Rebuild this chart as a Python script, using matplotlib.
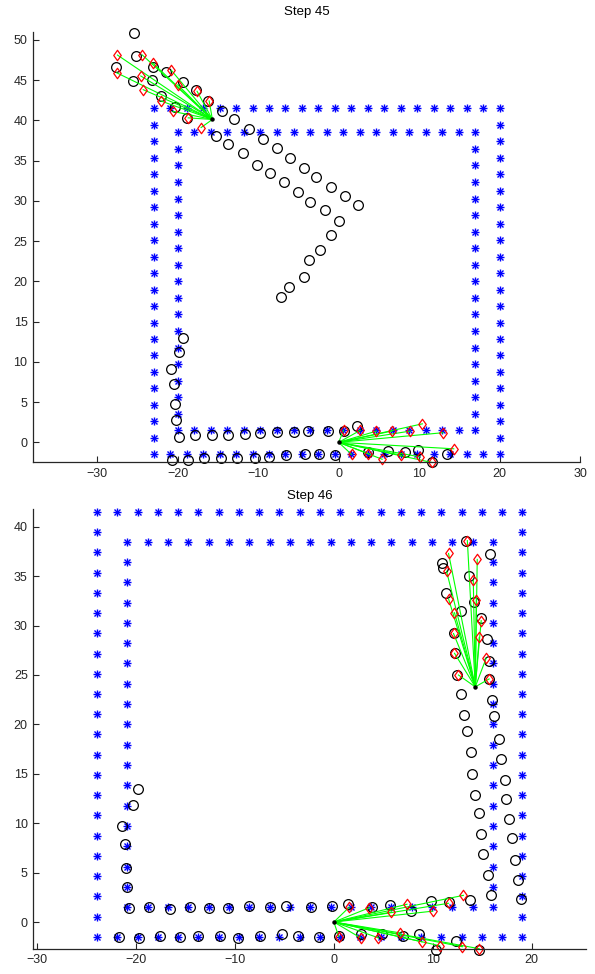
import matplotlib
matplotlib.use("Agg")
import matplotlib.pyplot as plt
from matplotlib.path import Path

plt.rcParams['font.family'] = ['Liberation Sans', 'DejaVu Sans']

# ---------------- data: Step 45 ----------------
top_outer_x = [-23.0, -20.95, -18.9, -16.86, -14.81, -12.76, -10.71, -8.67, -6.62, -4.57, -2.52,
               -0.48, 1.57, 3.62, 5.67, 7.71, 9.76, 11.81, 13.86, 15.9, 17.95, 20.0]
top_outer_y = [-1.5, 0.55, 2.6, 4.64, 6.69, 8.74, 10.79, 12.83, 14.88, 16.93, 18.98, 21.02,
               23.07, 25.12, 27.17, 29.21, 31.26, 33.31, 35.36, 37.4, 39.45, 41.5]
top_inner_x = [-20.0, -17.94, -15.89, -13.83, -11.78, -9.72, -7.67, -5.61, -3.56, -1.5, 0.56,
               2.61, 4.67, 6.72, 8.78, 10.83, 12.89, 14.94, 17.0]
top_inner_y = [1.5, 3.56, 5.61, 7.67, 9.72, 11.78, 13.83, 15.89, 17.94, 20.0, 22.06, 24.11,
               26.17, 28.22, 30.28, 32.33, 34.39, 36.44, 38.5]

top_obs_x = [-25.5, -27.7, -25.2, -23.1, -25.6, -23.2, -21.5, -22.1, -19.3, -17.7, -16.2, -20.4,
             -18.8, -14.5, -13.0, -15.2, -13.7,
             -11.1, -9.4, -11.9, -10.2, -7.7, -8.5, -6.0, -6.8, -4.3, -5.1, -2.8, -3.6, -0.9,
             -1.7, 0.8, 0.0, 2.4, -1.0, -2.3, -3.7, -4.3, -6.2, -7.2,
             -19.3, -19.8, -20.8, -20.5, -20.3, -20.2, -19.8,
             -17.8, -15.8, -13.7, -11.6, -9.8, -7.7, -5.6, -3.8, -1.3, 0.6, 2.3,
             -20.7, -18.7, -16.7, -14.6, -12.7, -10.4, -8.7, -6.6, -4.2, -2.5, -0.4, 3.7, 6.1,
             8.2, 9.8, 11.6, 13.5]
top_obs_y = [50.9, 46.6, 48.0, 46.6, 44.9, 45.0, 46.0, 43.0, 44.8, 43.7, 42.4, 41.6,
             40.3, 41.1, 40.1, 38.1, 37.1,
             38.9, 37.7, 35.9, 34.5, 36.5, 33.4, 35.3, 32.3, 34.1, 31.1, 33.0, 29.9, 31.7,
             28.8, 30.6, 27.5, 29.5, 25.7, 23.9, 22.6, 20.5, 19.3, 18.0,
             13.0, 11.2, 9.1, 7.3, 4.8, 2.8, 0.7,
             0.9, 0.9, 0.9, 1.0, 1.1, 1.3, 1.3, 1.4, 1.4, 1.4, 2.0,
             -2.2, -2.2, -2.0, -2.0, -1.9, -1.9, -1.8, -1.6, -1.5, -1.5, -1.6, -1.2, -1.1,
             -1.2, -1.0, -2.5, -1.5]

top_robots_x = [-15.7, 0.0]
top_robots_y = [40.1, 0.0]
top_predA_x = [-27.5, -24.4, -23.1, -27.6, -20.8, -24.6, -20.0, -24.3, -17.6, -16.1, -22.1, -20.6, -18.7, -17.1]
top_predA_y = [48.1, 48.1, 47.1, 45.9, 46.2, 45.5, 44.4, 43.8, 43.6, 42.4, 42.4, 41.1, 40.3, 39.1]
top_predB_x = [0.6, 2.7, 4.7, 6.6, 8.9, 10.4, 13.0, 1.6, 3.7, 5.4, 7.8, 10.1, 11.6, 14.3]
top_predB_y = [1.5, 1.5, 1.4, 1.4, 1.4, 2.3, 1.2, -1.5, -1.4, -2.1, -1.6, -1.8, -2.5, -0.8]

# ---------------- data: Step 46 ----------------
bot_outer_x = [-23.95, -21.9, -19.85, -17.81, -15.76, -13.71, -11.66, -9.62, -7.57, -5.52, -3.47,
               -1.43, 0.62, 2.67, 4.72, 6.76, 8.81, 10.86, 12.91, 14.95, 17.0, 19.05]
bot_outer_y = top_outer_y
bot_inner_x = [-20.9, -18.84, -16.79, -14.73, -12.68, -10.62, -8.57, -6.51, -4.46, -2.4, -0.34,
               1.71, 3.77, 5.82, 7.88, 9.93, 11.99, 14.04, 16.1]
bot_inner_y = top_inner_y

bot_obs_x = [-19.8, -20.3, -21.4, -21.1, -21.0, -20.9, -20.7,
             -18.7, -16.6, -14.6, -12.6, -10.7, -8.6, -6.5, -4.8, -2.3, -0.2, 1.4, 3.9, 5.7,
             7.8, 9.8, 11.6, 13.8,
             -21.7, -19.7, -17.6, -15.6, -13.7, -11.5, -9.7, -7.5, -5.25, -3.6, -1.5, 0.5, 2.7,
             4.9, 7.0, 8.6, 10.3, 12.4, 14.7,
             15.9, 15.6, 18.9, 18.6, 18.3, 15.1, 18.0, 14.9, 17.7, 14.7, 17.4, 14.3, 17.3, 14.0,
             16.9, 13.9, 16.7, 13.5, 16.2, 13.2, 16.0, 12.9, 15.7, 12.5, 15.7, 12.3, 15.5, 12.1,
             14.9, 12.9, 14.2, 11.3, 13.7, 11.0, 10.9, 15.8, 13.4]
bot_obs_y = [13.5, 11.8, 9.7, 7.9, 5.5, 3.5, 1.4,
             1.5, 1.35, 1.5, 1.4, 1.45, 1.6, 1.5, 1.65, 1.5, 1.6, 1.8, 1.5, 1.7,
             1.1, 2.1, 2.0, 2.2,
             -1.5, -1.6, -1.45, -1.5, -1.45, -1.45, -1.6, -1.4, -1.25, -1.4, -1.5, -1.45, -1.25,
             -1.25, -1.45, -1.25, -2.8, -1.95, -2.8,
             2.7, 4.8, 2.3, 4.3, 6.25, 6.9, 8.5, 8.9, 10.4, 11.0, 12.4, 12.9, 14.4, 15.0,
             16.5, 17.2, 18.5, 19.3, 20.8, 21.0, 22.5, 23.1, 24.6, 25.0, 26.4, 27.2, 28.6, 29.3,
             30.8, 31.5, 32.4, 33.3, 35.0, 35.8, 36.3, 37.2, 38.6]

bot_robots_x = [0.0, 14.3]
bot_robots_y = [0.0, 23.8]
bot_predA_x = [1.55, 3.6, 5.8, 7.4, 10.0, 11.6, 13.1, 0.5, 2.7, 4.5, 6.7, 8.9, 10.7, 13.0, 14.7]
bot_predA_y = [1.5, 1.45, 1.0, 1.8, 1.1, 1.9, 2.7, -1.5, -1.6, -1.6, -1.1, -2.0, -2.4, -2.5, -2.7]
bot_predB_x = [13.5, 11.6, 14.5, 11.4, 14.1, 11.6, 14.4, 12.2, 14.9, 12.1, 14.7, 12.2, 15.4, 12.6, 15.7]
bot_predB_y = [38.6, 37.3, 36.7, 35.5, 34.6, 32.7, 32.6, 31.3, 30.5, 29.2, 28.8, 27.2, 26.7, 25.0, 24.6]

# ---------------- drawing ----------------
diamond = Path([(0, 1), (0.72, 0), (0, -1), (-0.72, 0), (0, 1)],
               [Path.MOVETO, Path.LINETO, Path.LINETO, Path.LINETO, Path.CLOSEPOLY])


def square_points(xs, ys):
    px, py = [], []
    for x in xs:
        px += [x, x]
        py += [ys[0], ys[-1]]
    for y in ys[1:-1]:
        px += [xs[0], xs[-1]]
        py += [y, y]
    return px, py


def draw_panel(ax, ox, oy, ix, iy, obs_x, obs_y, robots_x, robots_y, preds):
    for xs, ys in ((ox, oy), (ix, iy)):
        px, py = square_points(xs, ys)
        ax.plot(px, py, ls='none', marker='+', ms=6.2, mew=1.0, color=(0, 0, 1), clip_on=False)
        ax.plot(px, py, ls='none', marker='x', ms=4.4, mew=1.0, color=(0, 0, 1), clip_on=False)
    ax.plot(obs_x, obs_y, ls='none', marker='o', ms=7, mfc='none', mec='black', mew=0.9,
            clip_on=False)
    for (rx, ry), (dx, dy) in zip(zip(robots_x, robots_y), preds):
        for x, y in zip(dx, dy):
            ax.plot([rx, x], [ry, y], color=(0, 1, 0), lw=0.8, clip_on=False)
        ax.plot(dx, dy, ls='none', marker=diamond, ms=7.5, mfc='none', mec='red', mew=0.9,
                clip_on=False)
    ax.plot(robots_x, robots_y, ls='none', marker='o', ms=2.2, color='black', clip_on=False)


def style(ax, xlim, ylim, xt, yt, title, pad):
    ax.set_xlim(*xlim)
    ax.set_ylim(*ylim)
    ax.set_xticks(xt)
    ax.set_yticks(yt)
    ax.set_xticklabels([str(v).replace('-', '\u2212') for v in xt])
    ax.set_yticklabels([str(v) for v in yt])
    for s in ('top', 'right'):
        ax.spines[s].set_visible(False)
    for s in ('left', 'bottom'):
        ax.spines[s].set_color('#262626')
        ax.spines[s].set_linewidth(0.9)
    ax.tick_params(direction='in', length=4, width=0.8, labelsize=9, colors='#262626', pad=4)
    ax.set_title(title, fontsize=9.5, pad=pad)


fig = plt.figure(figsize=(5.95, 9.74), dpi=100)

ax1 = fig.add_axes([33 / 595, (974 - 462) / 974, 547 / 595, 430.3 / 974])
draw_panel(ax1, top_outer_x, top_outer_y, top_inner_x, top_inner_y, top_obs_x, top_obs_y,
           top_robots_x, top_robots_y, [(top_predA_x, top_predA_y), (top_predB_x, top_predB_y)])
style(ax1, (-38, 30), (-2.44, 51.0), [-30, -20, -10, 0, 10, 20, 30],
      [0, 5, 10, 15, 20, 25, 30, 35, 40, 45, 50], 'Step 45', 12)

ax2 = fig.add_axes([33.3 / 595, (974 - 948.7) / 974, 552.7 / 595, 439.7 / 974])
draw_panel(ax2, bot_outer_x, bot_outer_y, bot_inner_x, bot_inner_y, bot_obs_x, bot_obs_y,
           bot_robots_x, bot_robots_y, [(bot_predA_x, bot_predA_y), (bot_predB_x, bot_predB_y)])
style(ax2, (-30.4, 25.5), (-2.7, 41.8), [-30, -20, -10, 0, 10, 20],
      [0, 5, 10, 15, 20, 25, 30, 35, 40], 'Step 46', 7)

fig.savefig('out.png', dpi=100)
